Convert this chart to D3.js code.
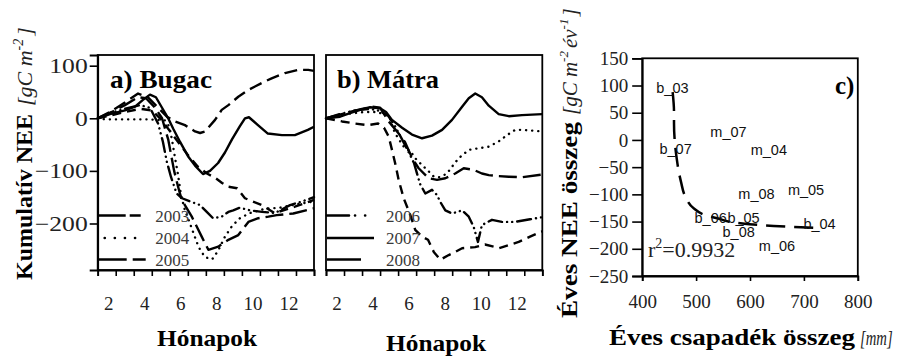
<!DOCTYPE html>
<html><head><meta charset="utf-8">
<script src="https://cdn.jsdelivr.net/npm/d3@7"></script>
<style>body{margin:0;background:#fff}svg{display:block}</style>
</head><body><svg id="c" width="898" height="357"></svg>
<script>
// ---------- DATA ----------
const monthTickLabels = [2, 4, 6, 8, 10, 12];
const neeTicks = [100, 0, -100, -200];
const legendA = ["2003", "2004", "2005"];
const legendB = ["2006", "2007", "2008"];

// cumulative NEE, [month, gC m-2]
const bugac2003 = [[1.5,0],[2.18,12],[3.01,30],[3.74,47],[4.29,40],[4.85,20],[5.34,3],[5.79,-6],[6.34,-13],[6.9,-25],[7.18,-28],[7.46,-25],[8.01,-3],[8.38,16],[8.75,25],[9.3,41],[9.86,54],[10.6,67],[11.15,76],[11.89,86],[12.63,92],[13.18,92],[13.5,90]];
const bugac2004 = [[1.5,0],[1.9,-2],[4.29,-2],[5.23,-4],[5.46,-15],[5.62,-40],[5.79,-75],[5.96,-108],[6.12,-146],[6.34,-175],[6.62,-200],[6.99,-235],[7.18,-250],[7.46,-264],[7.85,-268],[8.18,-252],[8.56,-225],[8.95,-205],[9.39,-190],[9.95,-180],[10.78,-172],[11.61,-170],[12.44,-164],[13.5,-158]];
const bugac2005 = [[1.5,0],[2.18,5],[3.01,12],[3.85,18],[4.51,15],[4.96,0],[5.41,-20],[5.96,-45],[6.51,-70],[7.06,-92],[7.56,-105],[8.01,-113],[8.4,-123],[8.73,-130],[9.23,-133],[9.67,-152],[10.6,-165],[11.34,-181],[11.51,-178],[12.44,-168],[13.5,-155]];
const bugac2006 = [[1.5,0],[2.18,10],[3.01,18],[3.85,25],[4.4,20],[4.85,-10],[5.12,-45],[5.33,-82],[5.57,-112],[5.88,-143],[6.18,-152],[6.62,-158],[7.18,-165],[7.55,-178],[7.9,-190],[8.38,-187],[8.75,-178],[9.02,-175],[9.39,-170],[9.95,-175],[10.62,-178],[11.34,-180],[12.17,-165],[12.84,-158],[13.5,-150]];
const bugac2007 = [[1.5,0],[2.18,8],[3.01,15],[3.57,22],[4.01,35],[4.4,45],[4.73,40],[5.07,20],[5.41,0],[5.69,-20],[6.07,-45],[6.51,-72],[6.9,-90],[7.34,-106],[7.73,-100],[8.18,-85],[8.56,-65],[8.95,-40],[9.39,-15],[9.67,0],[9.89,2],[10.39,-13],[10.94,-29],[11.72,-32],[12.44,-32],[13.16,-22],[13.5,-16]];
const bugac2008 = [[1.5,0],[2.29,12],[3.01,25],[3.74,40],[4.18,38],[4.68,20],[5.07,0],[5.41,-40],[5.74,-100],[5.96,-130],[6.16,-155],[6.72,-187],[7.27,-225],[7.64,-250],[8.19,-244],[8.75,-231],[9.3,-222],[9.86,-197],[10.41,-190],[10.97,-187],[11.43,-184],[12.35,-181],[13.5,-171]];

const matra2004 = [[1.5,0],[2.0,4],[2.55,8],[3.11,10],[3.66,12],[4.22,12],[4.77,8],[5.05,0],[5.16,-13],[5.34,-29],[5.62,-44],[5.88,-57],[6.18,-62],[6.45,-76],[6.83,-89],[7.2,-101],[7.48,-111],[7.82,-112],[8.21,-105],[8.49,-92],[8.86,-76],[9.42,-60],[9.97,-57],[10.53,-54],[11.08,-44],[11.54,-32],[12.0,-22],[12.37,-22],[13.5,-25]];
const matra2005 = [[1.5,0],[2.39,-6],[3.11,-10],[3.83,-13],[4.39,-10],[4.72,-18],[4.98,-35],[5.16,-60],[5.34,-86],[5.53,-117],[5.81,-152],[6.18,-184],[6.45,-212],[6.83,-225],[7.16,-231],[7.48,-254],[7.84,-269],[8.31,-260],[8.67,-254],[9.05,-247],[9.77,-245],[10.32,-240],[10.8,-244],[11.08,-247],[11.64,-241],[12.19,-235],[12.82,-225],[13.5,-215]];
const matra2006 = [[1.5,0],[2.28,8],[3.11,15],[3.94,18],[4.5,14],[4.94,5],[5.33,-15],[5.72,-40],[6.05,-62],[6.38,-85],[6.72,-125],[7.01,-143],[7.38,-136],[7.66,-146],[7.84,-159],[8.12,-175],[8.49,-181],[9.05,-175],[9.42,-187],[9.69,-206],[9.93,-235],[10.15,-203],[10.71,-193],[11.26,-197],[11.99,-197],[12.82,-192],[13.5,-188]];
const matra2007 = [[1.5,0],[2.28,3],[2.83,10],[3.39,16],[3.94,21],[4.5,19],[4.83,12],[5.16,-3],[5.72,-18],[6.27,-31],[6.83,-38],[7.38,-33],[7.94,-22],[8.49,-3],[9.05,22],[9.42,38],[9.78,47],[10.15,40],[10.53,24],[11.08,8],[11.64,4],[12.37,6],[13.5,8]];
const matra2008 = [[1.5,0],[2.17,6],[2.83,12],[3.5,18],[4.05,22],[4.5,20],[4.98,-6],[5.53,-29],[5.88,-45],[6.27,-75],[6.64,-95],[7.2,-114],[7.66,-117],[8.12,-114],[8.67,-105],[9.14,-95],[9.69,-98],[10.15,-105],[10.53,-108],[11.08,-110],[11.64,-111],[12.37,-112],[13.5,-107]];

// panel c: annual sums
const siteYears   = ["b_03","b_07","m_07","m_04","m_08","m_05","b_06","b_05","b_08","b_04","m_06"];
const annualPrecip = [456, 462, 560, 635, 612, 704, 527, 588, 579, 729, 650];
const annualNEE    = [95, -17, 15, -19, -100, -92, -144, -144, -169, -155, -194];
const fitPrecip = [456.5, 459, 459, 461, 464, 468, 472, 480, 496, 514, 539, 582, 644, 706, 729];
const fitNEE    = [88, 52, 31, -9, -34, -59, -77, -104, -126, -137, -144, -153, -158, -161, -162];
const xTicksC = [400, 500, 600, 700, 800];
const yTicksC = [150, 100, 50, 0, -50, -100, -150, -200, -250];

// ---------- STYLES ----------
const styles = {
  "2003": {dash: "13,6", cap: "butt", legDash: "27,4,11,200", legLen: 42},
  "2004": {dash: "0.1,6", cap: "round", legDash: "0.1,10", legLen: 40, legOff: 6},
  "2005": {dash: "9,6", cap: "butt", legDash: "28,6,13,200", legLen: 47},
  "2006": {dash: "14,5,0.1,5,0.1,5", cap: "round", legDash: "22,6,0.1,10,0.1,200", legLen: 40},
  "2007": {dash: null, cap: "butt", legDash: null, legLen: 47},
  "2008": {dash: "18,6", cap: "butt", legDash: null, legLen: 34}
};

const svg = d3.select("#c");
const SERIF = "'Liberation Serif','Times New Roman',serif";
const SANS = "'Liberation Sans',Arial,sans-serif";

// ---------- PANELS A & B ----------
const yAB = d3.scaleLinear().domain([-288.4, 120.3]).range([270, 55]);
const panels = [
  {x0: 97.7, x1: 314, title: "a) Bugac", titleX: 110, series: {"2003": bugac2003, "2004": bugac2004, "2005": bugac2005, "2006": bugac2006, "2007": bugac2007, "2008": bugac2008}, legend: legendA, yLabels: true, hX: 207, hY: 346},
  {x0: 326, x1: 542.3, title: "b) Mátra", titleX: 337, series: {"2004": matra2004, "2005": matra2005, "2006": matra2006, "2007": matra2007, "2008": matra2008}, legend: legendB, yLabels: false, hX: 436, hY: 351}
];

panels.forEach(p => {
  const x = d3.scaleLinear().domain([1.5, 13.5]).range([p.x0, p.x1]);
  const g = svg.append("g");
  g.append("rect").attr("x", p.x0).attr("y", 55).attr("width", p.x1 - p.x0).attr("height", 215)
    .attr("fill", "none").attr("stroke", "#000").attr("stroke-width", 1.8);
  const xt = g.append("g").attr("transform", "translate(0,270)")
    .call(d3.axisBottom(x).tickValues(d3.range(1.5, 13.6, 1)).tickSize(6).tickFormat(""));
  xt.select(".domain").attr("stroke-width", 1.8);
  xt.selectAll(".tick line").attr("stroke-width", 1.6);
  const xl = g.append("g").attr("transform", "translate(1.5,310)")
    .call(d3.axisBottom(x).tickValues(monthTickLabels).tickSize(0).tickPadding(0));
  xl.select(".domain").remove();
  xl.selectAll("text").attr("font-family", SERIF).attr("font-size", 19).attr("fill", "#222").attr("dy", 0);
  if (p.yLabels) {
    const ya = g.append("g").attr("transform", `translate(${p.x0},0)`)
      .call(d3.axisLeft(yAB).tickValues(neeTicks).tickSize(8).tickPadding(3));
    ya.select(".domain").attr("stroke-width", 1.8);
    ya.selectAll(".tick line").attr("stroke-width", 1.6);
    ya.selectAll("text").attr("font-family", SERIF).attr("font-size", 21).attr("fill", "#222")
      .attr("x", 0).attr("transform", "translate(-10,0) scale(1.22,1)");
  }
  const line = d3.line().x(d => x(d[0])).y(d => yAB(d[1]));
  Object.entries(p.series).forEach(([yr, data]) => {
    const s = styles[yr];
    g.append("path").datum(data).attr("d", line).attr("fill", "none").attr("stroke", "#000")
      .attr("stroke-width", 2.4).attr("stroke-linecap", s.cap).attr("stroke-linejoin", "round")
      .attr("stroke-dasharray", s.dash);
  });
  const legY = [215.5, 238, 259.5];
  p.legend.forEach((yr, i) => {
    const s = styles[yr];
    const lx0 = p.x0 + 1 + (s.legOff || 0);
    g.append("line").attr("x1", lx0).attr("x2", p.x0 + 1 + s.legLen).attr("y1", legY[i]).attr("y2", legY[i])
      .attr("stroke", "#000").attr("stroke-width", 2.6).attr("stroke-linecap", s.cap)
      .attr("stroke-dasharray", s.legDash);
    g.append("text").attr("x", p.x0 + (p.yLabels ? 57.5 : 60)).attr("y", legY[i] + 6)
      .attr("font-family", SERIF).attr("font-size", 17).attr("fill", "#3a3a3a").text(yr);
  });
  g.append("text").attr("x", p.titleX).attr("y", 88).attr("font-family", SERIF).attr("font-weight", "bold")
    .attr("font-size", 25).attr("textLength", 102).attr("lengthAdjust", "spacingAndGlyphs").text(p.title);
  g.append("text").attr("x", p.hX).attr("y", p.hY).attr("text-anchor", "middle").attr("font-family", SERIF)
    .attr("font-weight", "bold").attr("font-size", 23).attr("textLength", 100).attr("lengthAdjust", "spacingAndGlyphs").text("Hónapok");
});

// y title panel a
{
  const t = svg.append("g").attr("transform", "translate(32,280) rotate(-90)");
  t.append("text").attr("x", 0).attr("y", 0).attr("font-family", SERIF).attr("font-weight", "bold")
    .attr("font-size", 24).attr("textLength", 166).attr("lengthAdjust", "spacingAndGlyphs").text("Kumulatív NEE");
  const it = t.append("text").attr("x", 174).attr("y", 0).attr("font-family", SERIF).attr("font-style", "italic")
    .attr("font-size", 22).attr("fill", "#222");
  it.append("tspan").text("[gC m");
  it.append("tspan").attr("dy", -9).attr("font-size", 14).text("-2");
  it.append("tspan").attr("dy", 9).attr("dx", 3).text("]");
}

// ---------- PANEL C ----------
const xC = d3.scaleLinear().domain([400, 800]).range([642.2, 857.8]);
const yC = d3.scaleLinear().domain([-250, 150]).range([276, 58.3]);
{
  const g = svg.append("g");
  g.append("rect").attr("x", 642.2).attr("y", 58.3).attr("width", 215.6).attr("height", 217.7)
    .attr("fill", "none").attr("stroke", "#000").attr("stroke-width", 1.8);
  const xa = g.append("g").attr("transform", "translate(0,276)")
    .call(d3.axisBottom(xC).tickValues(xTicksC).tickSize(5).tickPadding(14));
  xa.select(".domain").attr("stroke-width", 1.8);
  xa.selectAll(".tick line").attr("stroke-width", 1.6);
  xa.selectAll("text").attr("font-family", SERIF).attr("font-size", 19).attr("fill", "#222");
  const ya = g.append("g").attr("transform", "translate(642.2,0)")
    .call(d3.axisLeft(yC).tickValues(yTicksC).tickSize(10).tickPadding(4));
  ya.select(".domain").attr("stroke-width", 1.8);
  ya.selectAll(".tick line").attr("stroke-width", 1.6);
  ya.selectAll("text").attr("font-family", SERIF).attr("font-size", 19).attr("fill", "#222");

  const fit = fitPrecip.map((v, i) => [v, fitNEE[i]]);
  g.append("path").datum(fit).attr("d", d3.line().curve(d3.curveMonotoneY).x(d => xC(d[0])).y(d => yC(d[1])))
    .attr("fill", "none").attr("stroke", "#000").attr("stroke-width", 2.5).attr("stroke-dasharray", "19,9");
  siteYears.forEach((lab, i) => {
    g.append("text").attr("x", xC(annualPrecip[i])).attr("y", yC(annualNEE[i]))
      .attr("text-anchor", "middle").attr("dominant-baseline", "central")
      .attr("font-family", SANS).attr("font-size", 14.5).attr("fill", "#111").text(lab);
  });
  g.append("text").attr("x", 835).attr("y", 94).attr("font-family", SERIF).attr("font-weight", "bold")
    .attr("font-size", 25).text("c)");
  const r = g.append("text").attr("x", 648).attr("y", 257).attr("font-family", SERIF).attr("font-size", 22).attr("fill", "#222");
  r.append("tspan").text("r");
  r.append("tspan").attr("dy", -9).attr("font-size", 14).text("2");
  r.append("tspan").attr("dy", 9).text("=0.9932");
  svg.append("text").attr("x", 609).attr("y", 345).attr("font-family", SERIF).attr("font-weight", "bold")
    .attr("font-size", 23).attr("textLength", 246).attr("lengthAdjust", "spacingAndGlyphs").text("Éves csapadék összeg");
  svg.append("text").attr("x", 0).attr("y", 0).attr("transform", "translate(860,345) scale(0.7,1)")
    .attr("font-family", SERIF).attr("font-style", "italic")
    .attr("font-size", 21).attr("fill", "#222").text("[mm]");
  const t = svg.append("g").attr("transform", "translate(577,318) rotate(-90)");
  t.append("text").attr("x", 0).attr("y", 0).attr("font-family", SERIF).attr("font-weight", "bold")
    .attr("font-size", 24).attr("textLength", 196).attr("lengthAdjust", "spacingAndGlyphs").text("Éves NEE összeg");
  const it = t.append("text").attr("x", 203).attr("y", 0).attr("font-family", SERIF).attr("font-style", "italic")
    .attr("font-size", 21).attr("fill", "#222");
  it.append("tspan").text("[gC m");
  it.append("tspan").attr("dy", -9).attr("font-size", 13).text("-2");
  it.append("tspan").attr("dy", 9).attr("dx", 3).text("év");
  it.append("tspan").attr("dy", -9).attr("font-size", 13).text("-1");
  it.append("tspan").attr("dy", 9).attr("dx", 2).text("]");
}
</script></body></html>
